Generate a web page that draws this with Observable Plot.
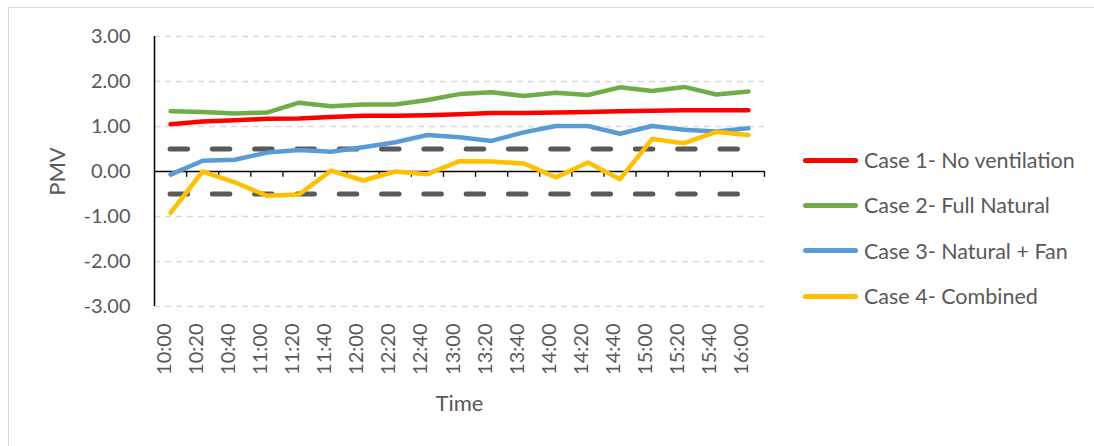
<!DOCTYPE html>
<html>
<head>
<meta charset="utf-8">
<script src="https://cdn.jsdelivr.net/npm/d3@7"></script>
<script src="https://cdn.jsdelivr.net/npm/@observablehq/plot@0.6"></script>
<style>
  html, body { margin: 0; padding: 0; background: #fff; }
  #wrap { position: relative; width: 1094px; height: 446px; overflow: hidden; font-family: Lato, "Open Sans", sans-serif; color: #595959; }
  #border { position: absolute; left: 8px; top: 7px; width: 1200px; height: 600px; border-left: 1px solid #d9d9d9; border-top: 1px solid #d9d9d9; }
  #legend { position: absolute; left: 803px; top: 137.5px; }
  .item { display: flex; align-items: center; height: 45.3px; font-size: 21.5px; white-space: nowrap; }
  .sw { width: 55px; height: 5px; border-radius: 3px; margin-right: 6px; flex: none; }
</style>
</head>
<body>
<div id="wrap"><div id="border"></div><div id="chart"></div><div id="legend"></div></div>
<script>
// Time of day, every 20 minutes
const times = ["10:00","10:20","10:40","11:00","11:20","11:40","12:00","12:20","12:40","13:00",
               "13:20","13:40","14:00","14:20","14:40","15:00","15:20","15:40","16:00"];

// PMV per ventilation case
const case1 = [1.05, 1.11, 1.14, 1.17, 1.18, 1.21, 1.24, 1.24, 1.25, 1.27, 1.30, 1.30, 1.31, 1.32, 1.34, 1.35, 1.36, 1.36, 1.36];
const case2 = [1.34, 1.32, 1.29, 1.31, 1.53, 1.45, 1.49, 1.49, 1.59, 1.72, 1.76, 1.68, 1.75, 1.70, 1.87, 1.79, 1.88, 1.71, 1.78];
const case3 = [-0.07, 0.24, 0.26, 0.42, 0.48, 0.44, 0.54, 0.65, 0.81, 0.76, 0.68, 0.87, 1.01, 1.01, 0.84, 1.01, 0.93, 0.89, 0.96];
const case4 = [-0.92, 0.00, -0.24, -0.54, -0.51, 0.02, -0.20, 0.00, -0.06, 0.23, 0.22, 0.18, -0.13, 0.20, -0.17, 0.72, 0.63, 0.88, 0.81];

const seriesNames = ["Case 1- No ventilation", "Case 2- Full Natural", "Case 3- Natural + Fan", "Case 4- Combined"];
const seriesColors = ["#ff0000", "#70ad47", "#5b9bd5", "#ffc000"];
const seriesValues = [case1, case2, case3, case4];

// Comfort band limits
const comfortLimits = [0.5, -0.5];

// Value axis ticks
const yTicks = [-3, -2, -1, 0, 1, 2, 3];

const rows = seriesValues.flatMap((vals, s) =>
  vals.map((v, i) => ({series: seriesNames[s], idx: i, time: times[i], pmv: v})));

const lastIdx = times.length - 1;
const boundaries = d3.range(times.length + 1).map(k => k - 0.5);

const chart = Plot.plot({
  width: 1094,
  height: 446,
  marginLeft: 154,
  marginRight: 330,
  marginTop: 36,
  marginBottom: 140,
  style: {fontFamily: "Lato, 'Open Sans', sans-serif", fontSize: "20px", color: "#595959", background: "transparent"},
  x: {domain: [-0.5, times.length - 0.5], axis: null},
  y: {domain: [-3, 3], axis: null},
  color: {domain: seriesNames, range: seriesColors},
  marks: [
    // light dashed gridlines
    Plot.ruleY(yTicks.filter(d => d !== 0), {stroke: "#d9d9d9", strokeWidth: 1.3, strokeDasharray: "6,5"}),
    // value axis line
    Plot.ruleX([-0.5], {stroke: "#000", strokeWidth: 1.5}),
    // category axis at zero with tick marks between categories
    Plot.ruleY([0], {stroke: "#000", strokeWidth: 1.5}),
    Plot.ruleX(boundaries.slice(1), {y1: 0, y2: -0.13, stroke: "#000", strokeWidth: 1.3}),
    // comfort limits
    Plot.ruleY(comfortLimits, {x1: 0, x2: lastIdx, stroke: "#595959", strokeWidth: 5,
      strokeDasharray: "17.5,24.8", strokeLinecap: "round"}),
    // PMV series
    Plot.line(rows, {x: "idx", y: "pmv", z: "series", stroke: "series", strokeWidth: 4.5,
      strokeLinejoin: "round", strokeLinecap: "round"}),
    // value axis labels
    Plot.text(yTicks, {y: d => d, text: d => d.toFixed(2), frameAnchor: "left", textAnchor: "end", dx: -24, fill: "#595959"}),
    // category labels along the bottom
    Plot.text(times, {x: (d, i) => i, text: d => d, frameAnchor: "bottom", rotate: -90, textAnchor: "end", dy: 17, fill: "#595959"}),
    // axis titles
    Plot.text(["PMV"], {frameAnchor: "left", textAnchor: "middle", lineAnchor: "middle", dx: -97, rotate: -90, fontSize: 22, fill: "#595959"}),
    Plot.text(["Time"], {frameAnchor: "bottom", textAnchor: "middle", lineAnchor: "middle", dy: 97, fontSize: 22, fill: "#595959"})
  ]
});
document.getElementById("chart").appendChild(chart);

// legend
const legend = document.getElementById("legend");
seriesNames.forEach((name, s) => {
  const item = document.createElement("div");
  item.className = "item";
  const sw = document.createElement("div");
  sw.className = "sw";
  sw.style.background = seriesColors[s];
  const label = document.createElement("span");
  label.textContent = name;
  item.appendChild(sw);
  item.appendChild(label);
  legend.appendChild(item);
});
</script>
</body>
</html>
